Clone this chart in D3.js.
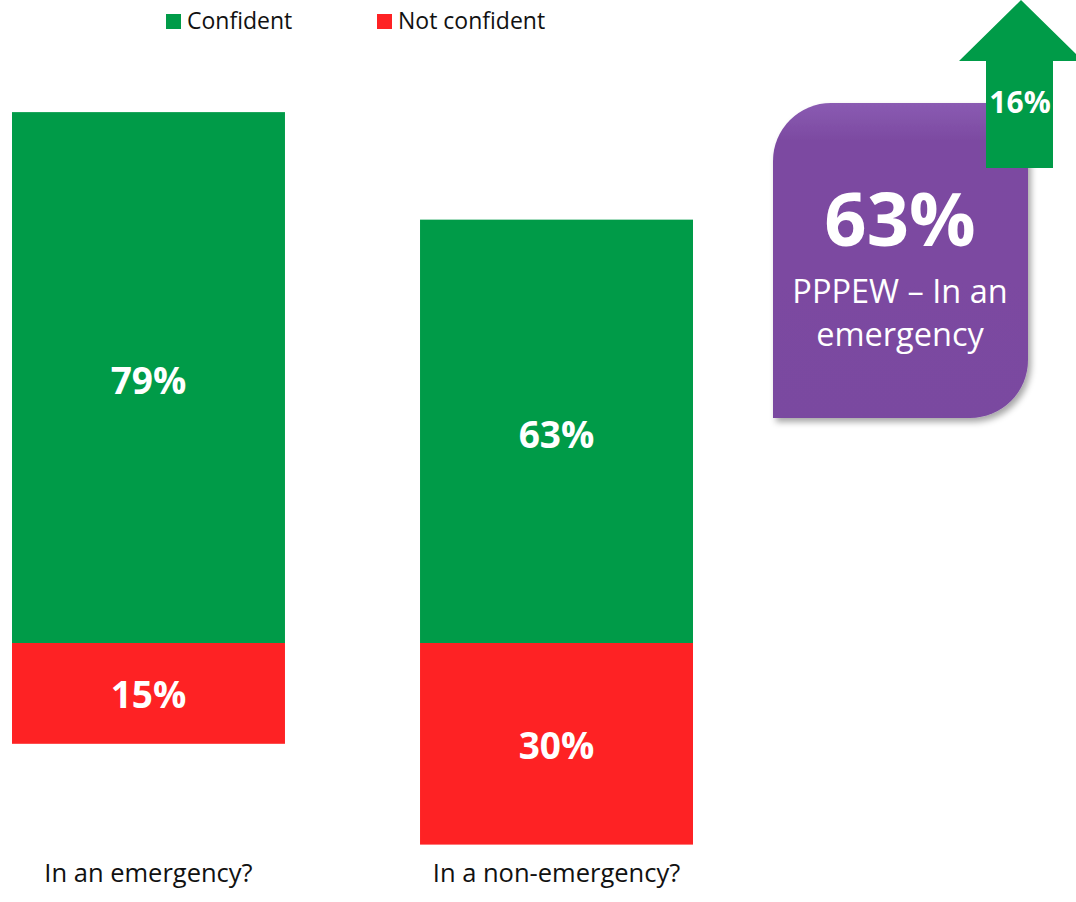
<!DOCTYPE html>
<html>
<head>
<meta charset="utf-8">
<script src="https://cdn.jsdelivr.net/npm/d3@7"></script>
<style>
  html, body { margin: 0; padding: 0; background: #fff; }
  svg { display: block; font-family: "Open Sans", "Noto Sans", sans-serif; }
</style>
</head>
<body>
<svg id="chart" width="1076" height="902"></svg>
<script>
// data
const categories = ["In an emergency?", "In a non-emergency?"];
const confident = [79, 63];
const notConfident = [15, 30];
const seriesNames = ["Confident", "Not confident"];
const seriesColors = ["#009B48", "#FE2224"];
const calloutValue = 63;
const calloutLines = ["PPPEW \u2013 In an", "emergency"];
const changeValue = 16;

const svg = d3.select('#chart');

const x = d3.scaleBand()
    .domain(categories)
    .range([12, 693])
    .paddingInner(0.331)
    .paddingOuter(0);

const baseline = 643;
const y = d3.scaleLinear()
    .domain([0, 100])
    .range([baseline, baseline - 672]);

const rows = categories.map(function(c, i) {
    return { cat: c, conf: confident[i], notc: notConfident[i] };
});

// green bars (above baseline)
svg.append('g').selectAll('rect')
    .data(rows)
    .join('rect')
    .attr('x', d => x(d.cat))
    .attr('y', d => y(d.conf))
    .attr('width', x.bandwidth())
    .attr('height', d => y(0) - y(d.conf))
    .attr('fill', seriesColors[0]);

// red bars (below baseline)
svg.append('g').selectAll('rect')
    .data(rows)
    .join('rect')
    .attr('x', d => x(d.cat))
    .attr('y', y(0))
    .attr('width', x.bandwidth())
    .attr('height', d => y(0) - y(d.notc))
    .attr('fill', seriesColors[1]);

// value labels
svg.append('g').selectAll('text')
    .data(rows)
    .join('text')
    .attr('x', d => x(d.cat) + x.bandwidth() / 2)
    .attr('y', d => (y(d.conf) + y(0)) / 2)
    .attr('dy', '0.45em')
    .attr('text-anchor', 'middle')
    .attr('fill', '#fff')
    .attr('font-weight', 'bold')
    .attr('font-size', 37)
    .text(d => d.conf + '%');

svg.append('g').selectAll('text')
    .data(rows)
    .join('text')
    .attr('x', d => x(d.cat) + x.bandwidth() / 2)
    .attr('y', d => y(0) + (y(0) - y(d.notc)) / 2)
    .attr('dy', '0.4em')
    .attr('text-anchor', 'middle')
    .attr('fill', '#fff')
    .attr('font-weight', 'bold')
    .attr('font-size', 37)
    .text(d => d.notc + '%');

// category labels
svg.append('g').selectAll('text')
    .data(categories)
    .join('text')
    .attr('x', d => x(d) + x.bandwidth() / 2)
    .attr('y', 882)
    .attr('text-anchor', 'middle')
    .attr('fill', '#111')
    .attr('font-size', 25.5)
    .text(d => d);

// legend
const legendX = [166, 377];
const legend = svg.append('g').selectAll('g')
    .data(seriesNames)
    .join('g')
    .attr('transform', (d, i) => 'translate(' + legendX[i] + ',14)');
legend.append('rect')
    .attr('width', 15).attr('height', 15)
    .attr('fill', (d, i) => seriesColors[i]);
legend.append('text')
    .attr('x', 21).attr('y', 15)
    .attr('font-size', 23)
    .attr('fill', '#111')
    .text(d => d);

// callout box
const defs = svg.append('defs');
const grad = defs.append('linearGradient')
    .attr('id', 'purpleGrad')
    .attr('x1', 0).attr('y1', 0).attr('x2', 0).attr('y2', 1);
grad.append('stop').attr('offset', '0%').attr('stop-color', '#8A5BB2');
grad.append('stop').attr('offset', '12%').attr('stop-color', '#7C4AA1');
grad.append('stop').attr('offset', '100%').attr('stop-color', '#7A49A0');
const shadow = defs.append('filter').attr('id', 'shadow')
    .attr('x', '-10%').attr('y', '-10%').attr('width', '130%').attr('height', '130%');
shadow.append('feDropShadow')
    .attr('dx', 3).attr('dy', 4).attr('stdDeviation', 3)
    .attr('flood-color', '#000').attr('flood-opacity', 0.35);

const bx = 773, by = 103, bw = 255, bh = 315, r = 58;
svg.append('path')
    .attr('d', 'M' + bx + ',' + (by + r) +
        ' A' + r + ',' + r + ' 0 0 1 ' + (bx + r) + ',' + by +
        ' L' + (bx + bw) + ',' + by +
        ' L' + (bx + bw) + ',' + (by + bh - r) +
        ' A' + r + ',' + r + ' 0 0 1 ' + (bx + bw - r) + ',' + (by + bh) +
        ' L' + bx + ',' + (by + bh) + ' Z')
    .attr('fill', 'url(#purpleGrad)')
    .attr('filter', 'url(#shadow)');

svg.append('text')
    .attr('x', 900).attr('y', 246)
    .attr('text-anchor', 'middle')
    .attr('fill', '#fff')
    .attr('font-weight', 'bold')
    .attr('font-size', 74)
    .text(calloutValue + '%');

svg.append('g').selectAll('text')
    .data(calloutLines)
    .join('text')
    .attr('x', 900)
    .attr('y', (d, i) => 303 + i * 43)
    .attr('text-anchor', 'middle')
    .attr('fill', '#fff')
    .attr('font-size', 32.5)
    .text(d => d);

// green arrow
svg.append('path')
    .attr('d', 'M986,168 L986,61 L959,61 L1021,0 L1083,61 L1053,61 L1053,168 Z')
    .attr('fill', seriesColors[0]);

svg.append('text')
    .attr('x', 1020).attr('y', 113)
    .attr('text-anchor', 'middle')
    .attr('fill', '#fff')
    .attr('font-weight', 'bold')
    .attr('font-size', 30)
    .text(changeValue + '%');
</script>
</body>
</html>
